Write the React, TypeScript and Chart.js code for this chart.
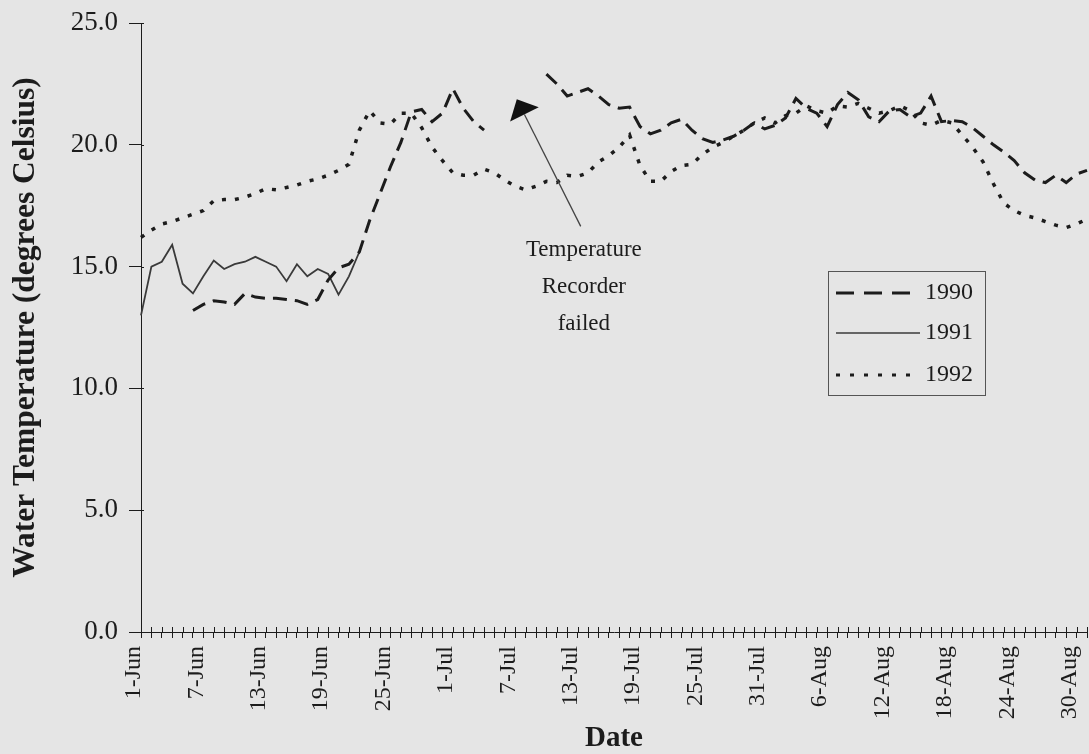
import React, { useEffect, useRef } from "react";
import { Chart, registerables } from "chart.js";

Chart.register(...registerables);

// ---------- data ----------
const MONTH_NAMES = ["Jun", "Jul", "Aug"];
const MONTH_DAYS = [30, 31, 31];
const DATE_LABELS: string[] = [];
MONTH_NAMES.forEach((m, mi) => {
  for (let d = 1; d <= MONTH_DAYS[mi]; d++) DATE_LABELS.push(`${d}-${m}`);
});
const LABEL_EVERY = 6;

const N = null;
// 1-Jun .. 31-Aug (92 days)
const T1990 = [
  N, N, N, N, N, 13.2, 13.45, 13.6, 13.55, 13.45,
  13.9, 13.75, 13.7, 13.7, 13.65, 13.6, 13.45, 13.65, 14.45, 14.95,
  15.1, 15.6, 16.9, 18.0, 19.1, 20.1, 21.35, 21.45, 20.95, 21.3,
  22.3, 21.5, 20.95, 20.6, N, N, N, N, N, 22.9,
  22.5, 22.0, 22.15, 22.3, 22.0, 21.65, 21.5, 21.55, 20.75, 20.45,
  20.6, 20.9, 21.05, 20.6, 20.25, 20.1, 20.2, 20.35, 20.6, 20.9,
  20.65, 20.8, 21.1, 21.9, 21.5, 21.3, 20.75, 21.65, 22.15, 21.85,
  21.15, 20.95, 21.4, 21.45, 21.15, 21.3, 22.0, 20.95, 21.0, 20.95,
  20.7, 20.35, 20.0, 19.7, 19.35, 18.85, 18.55, 18.45, 18.75, 18.45,
  18.8, 18.95,
];
const T1991 = [
  13.0, 15.0, 15.2, 15.9, 14.3, 13.9, 14.6, 15.25, 14.9, 15.1,
  15.2, 15.4, 15.2, 15.0, 14.4, 15.1, 14.6, 14.9, 14.7, 13.85,
  14.6, 15.6, N, N, N, N, N, N, N, N,
  N, N, N, N, N, N, N, N, N, N,
  N, N, N, N, N, N, N, N, N, N,
  N, N, N, N, N, N, N, N, N, N,
  N, N, N, N, N, N, N, N, N, N,
  N, N, N, N, N, N, N, N, N, N,
  N, N, N, N, N, N, N, N, N, N,
  N, N,
];
const T1992 = [
  16.2, 16.5, 16.75, 16.85, 17.0, 17.15, 17.3, 17.7, 17.75, 17.75,
  17.85, 18.0, 18.2, 18.15, 18.25, 18.35, 18.5, 18.6, 18.75, 18.95,
  19.2, 20.6, 21.4, 20.9, 20.85, 21.3, 21.3, 20.7, 19.9, 19.35,
  18.85, 18.75, 18.75, 19.0, 18.85, 18.55, 18.3, 18.15, 18.3, 18.5,
  18.45, 18.75, 18.7, 18.85, 19.3, 19.55, 19.9, 20.4, 19.15, 18.5,
  18.5, 18.9, 19.15, 19.2, 19.6, 19.9, 20.1, 20.35, 20.6, 20.9,
  21.1, 20.9, 21.2, 21.3, 21.6, 21.4, 21.3, 21.6, 21.55, 21.7,
  21.5, 21.3, 21.4, 21.6, 21.4, 20.9, 20.8, 21.0, 20.9, 20.4,
  19.9, 19.3, 18.4, 17.6, 17.3, 17.1, 17.0, 16.85, 16.7, 16.6,
  16.75, 16.95,
];
const SERIES_NAMES = ["1990", "1991", "1992"];
const Y_TICKS = [0, 5, 10, 15, 20, 25];
const ANNOTATION_LINES = ["Temperature", "Recorder", "failed"];
const Y_TITLE = "Water Temperature (degrees Celsius)";
const X_TITLE = "Date";

// ---------- styles ----------
const INK = "#1c1c1c";
const SOLID_INK = "#3a3a3a";
const BG = "#e5e5e5";
const SERIF = "'Liberation Serif', 'Times New Roman', serif";
const DASH = [14, 8];
const DOT = [4, 9];

const overlay = {
  id: "overlay",
  afterDraw(chart: any) {
    const { ctx, chartArea, scales } = chart;
    const x = scales.x;
    const y = scales.y;
    ctx.save();
    ctx.strokeStyle = INK;
    ctx.lineWidth = 1;
    // inner halves of tick marks
    ctx.beginPath();
    for (let i = 0; i < DATE_LABELS.length; i++) {
      const px = Math.round(x.getPixelForValue(i)) + 0.5;
      ctx.moveTo(px, chartArea.bottom - 5);
      ctx.lineTo(px, chartArea.bottom);
    }
    for (const v of Y_TICKS) {
      const py = Math.round(y.getPixelForValue(v)) + 0.5;
      ctx.moveTo(chartArea.left, py);
      ctx.lineTo(chartArea.left + 3, py);
    }
    ctx.stroke();

    // annotation arrow
    const tipX = x.getPixelForValue(36.15);
    const tipY = y.getPixelForValue(21.87);
    const tailX = x.getPixelForValue(42.3);
    const tailY = y.getPixelForValue(16.65);
    const dx = tipX - tailX;
    const dy = tipY - tailY;
    const len = Math.hypot(dx, dy);
    const ux = dx / len;
    const uy = dy / len;
    const headLen = 17;
    const halfW = 16;
    const bx = tipX - ux * headLen;
    const by = tipY - uy * headLen;
    ctx.strokeStyle = "#444";
    ctx.lineWidth = 1.3;
    ctx.beginPath();
    ctx.moveTo(tailX, tailY);
    ctx.lineTo(bx, by);
    ctx.stroke();
    ctx.fillStyle = "#111";
    ctx.beginPath();
    ctx.moveTo(tipX, tipY);
    ctx.lineTo(bx - uy * halfW, by + ux * halfW);
    ctx.lineTo(bx + uy * halfW, by - ux * halfW);
    ctx.closePath();
    ctx.fill();

    // annotation text
    ctx.fillStyle = INK;
    ctx.font = `23px ${SERIF}`;
    ctx.textAlign = "center";
    ctx.textBaseline = "middle";
    const tx = x.getPixelForValue(42.6);
    const ty = y.getPixelForValue(15.7);
    ANNOTATION_LINES.forEach((t, i) => ctx.fillText(t, tx, ty + i * 37));

    // legend box
    const lx = chartArea.right - 259;
    const ly = chartArea.top + 248;
    const lw = 157;
    const lh = 124;
    ctx.strokeStyle = "#555";
    ctx.lineWidth = 1;
    ctx.strokeRect(Math.round(lx) + 0.5, Math.round(ly) + 0.5, lw, lh);
    const styles = [
      { dash: [18, 10], w: 3, c: INK },
      { dash: [], w: 1.6, c: SOLID_INK },
      { dash: [4, 10], w: 3, c: INK },
    ];
    const rows = [22, 62, 104];
    ctx.font = `24px ${SERIF}`;
    ctx.textAlign = "left";
    SERIES_NAMES.forEach((name, i) => {
      const ry = ly + rows[i];
      ctx.strokeStyle = styles[i].c;
      ctx.lineWidth = styles[i].w;
      ctx.setLineDash(styles[i].dash);
      ctx.beginPath();
      ctx.moveTo(lx + 8, ry);
      ctx.lineTo(lx + 92, ry);
      ctx.stroke();
      ctx.setLineDash([]);
      ctx.fillStyle = INK;
      ctx.fillText(name, lx + 97, ry);
    });
    ctx.restore();
  },
};

export default function App() {
  const ref = useRef<HTMLCanvasElement | null>(null);
  useEffect(() => {
    if (!ref.current) return;
    const chart = new Chart(ref.current, {
      type: "line",
      data: {
        labels: DATE_LABELS,
        datasets: [
          {
            label: SERIES_NAMES[0],
            data: T1990,
            borderColor: INK,
            borderWidth: 3,
            borderDash: DASH,
            pointRadius: 0,
            tension: 0,
            spanGaps: false,
            borderCapStyle: "butt",
          },
          {
            label: SERIES_NAMES[1],
            data: T1991,
            borderColor: SOLID_INK,
            borderWidth: 1.8,
            pointRadius: 0,
            tension: 0,
            spanGaps: false,
          },
          {
            label: SERIES_NAMES[2],
            data: T1992,
            borderColor: INK,
            borderWidth: 3.5,
            borderDash: DOT,
            pointRadius: 0,
            tension: 0,
            spanGaps: false,
          },
        ],
      },
      options: {
        responsive: false,
        animation: false,
        devicePixelRatio: 1,
        layout: { padding: { left: 0, right: 2, top: 23, bottom: 0 } },
        plugins: {
          legend: { display: false },
          tooltip: { enabled: false },
        },
        scales: {
          x: {
            type: "category",
            offset: false,
            grid: {
              display: true,
              drawOnChartArea: false,
              drawTicks: true,
              tickLength: 6,
              color: INK,
            },
            border: { display: true, color: INK, width: 1 },
            ticks: {
              autoSkip: false,
              minRotation: 90,
              maxRotation: 90,
              padding: 8,
              labelOffset: -7,
              color: INK,
              font: { family: SERIF, size: 24 },
              callback: (v: any) => {
                const i = Number(v);
                return i % LABEL_EVERY === 0 ? DATE_LABELS[i] : "";
              },
            },
            title: {
              display: true,
              text: X_TITLE,
              color: INK,
              font: { family: SERIF, size: 29, weight: "bold", lineHeight: 1.1 },
              padding: { top: 0, bottom: 0 },
            },
            afterFit: (s: any) => {
              s.height = 122;
              s.paddingRight = 0;
              s.paddingLeft = 0;
            },
          },
          y: {
            min: 0,
            max: 25,
            grid: {
              display: true,
              drawOnChartArea: false,
              drawTicks: true,
              tickLength: 12,
              color: INK,
            },
            border: { display: true, color: INK, width: 1 },
            ticks: {
              stepSize: 5,
              padding: 11,
              color: INK,
              font: { family: SERIF, size: 27 },
              callback: (v: any) => Number(v).toFixed(1),
            },
            title: {
              display: true,
              text: Y_TITLE,
              color: INK,
              font: { family: SERIF, size: 31.5, weight: "bold", lineHeight: 1.2 },
              padding: { top: 7, bottom: 0 },
            },
            afterFit: (s: any) => {
              s.width = 141;
              s.paddingTop = 0;
              s.paddingBottom = 0;
            },
          },
        },
      },
      plugins: [overlay],
    });
    return () => chart.destroy();
  }, []);

  return (
    <div
      style={{
        position: "absolute",
        left: 0,
        top: 0,
        width: 1089,
        height: 754,
        background: BG,
        overflow: "hidden",
      }}
    >
      <canvas ref={ref} width={1089} height={754} style={{ display: "block" }} />
    </div>
  );
}
